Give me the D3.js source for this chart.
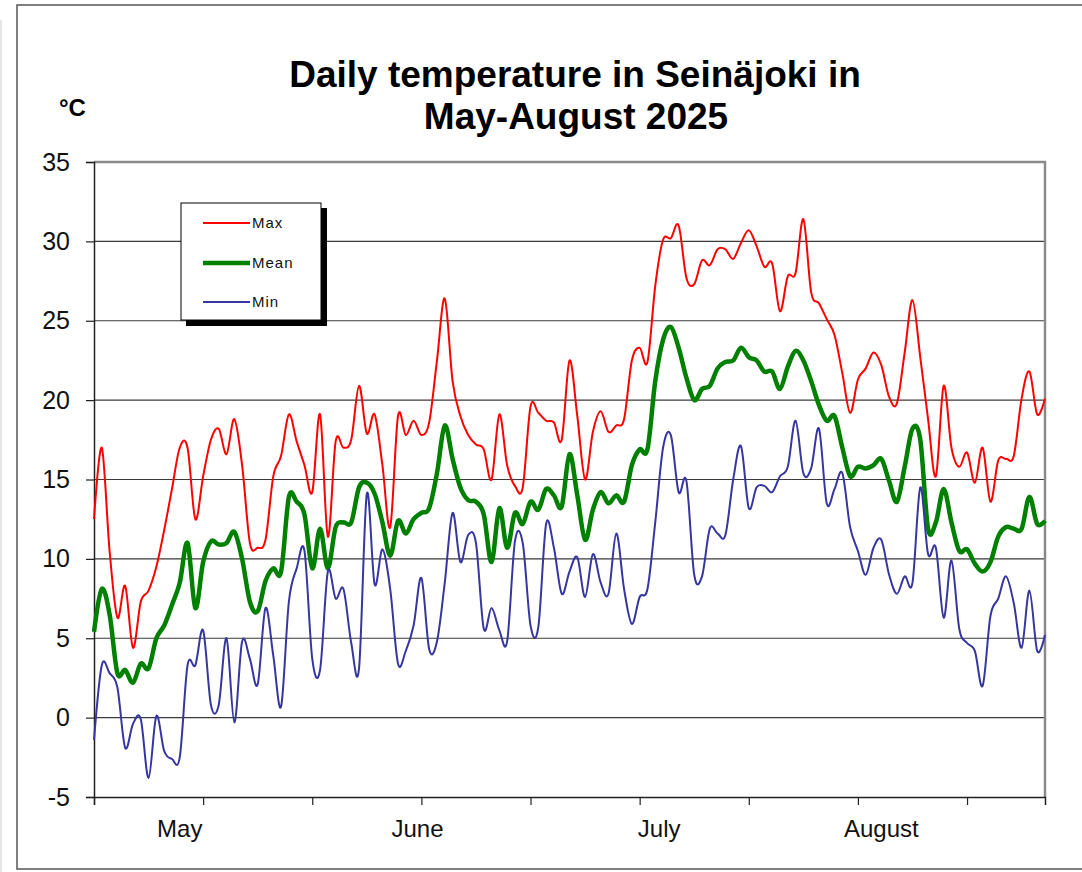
<!DOCTYPE html>
<html lang="en">

<head>
    <meta charset="UTF-8">
    <title>Daily temperature in Seinäjoki in May-August 2025</title>
    <script src="https://d3js.org/d3.v7.min.js"></script>
    <style>
        body { margin: 0; background: #fff; }
        svg { display: block; font-family: "Liberation Sans", Arial, sans-serif; }
    </style>
</head>

<body>
    <div id="chart"></div>

    <script type="text/javascript">

        // daily values, 1 May - 31 August 2025
        var tMax = [12.5, 17.0, 10.5, 6.3, 8.3, 4.4, 7.3, 8.0, 9.5, 11.8, 14.4, 17.0, 17.0, 12.5, 15.2, 17.5, 18.2, 16.6, 18.8, 15.9,
            11.0, 10.7, 11.2, 15.2, 16.5, 19.1, 17.4, 15.9, 14.2, 19.1, 11.4, 17.4, 17.0, 17.5, 20.9, 17.9, 19.1, 15.9, 12.0, 19.0,
            17.8, 18.7, 17.8, 18.6, 22.5, 26.4, 21.2, 19.0, 17.8, 17.2, 16.9, 15.0, 19.1, 15.9, 14.6, 14.5, 19.6, 19.2, 18.7, 18.6,
            17.5, 22.5, 19.0, 15.0, 18.0, 19.3, 18.0, 18.4, 18.8, 22.5, 23.3, 22.4, 27.2, 30.1, 30.2, 31.0, 27.7, 27.3, 28.8, 28.5,
            29.5, 29.5, 28.9, 29.9, 30.7, 29.7, 28.4, 28.6, 25.6, 27.8, 28.0, 31.4, 26.8, 26.1, 25.1, 24.1, 21.7, 19.2, 21.3, 22.0,
            23.0, 22.2, 20.2, 19.8, 23.0, 26.3, 22.7, 18.8, 15.2, 20.9, 17.0, 15.8, 16.7, 14.8, 17.0, 13.6, 16.2, 16.3, 16.5, 20.1,
            21.8, 19.1, 20.1];

        var tMean = [5.4, 8.1, 6.5, 2.8, 3.0, 2.2, 3.4, 3.1, 5.0, 5.8, 7.1, 8.5, 11.0, 6.9, 9.8, 11.1, 10.9, 11.0, 11.7, 10.0,
            7.3, 6.7, 8.6, 9.4, 9.2, 13.9, 13.6, 12.8, 9.4, 11.9, 9.4, 12.0, 12.3, 12.3, 14.5, 14.8, 14.1, 12.3, 10.2, 12.4,
            11.6, 12.5, 12.9, 13.2, 15.4, 18.4, 16.3, 14.5, 13.7, 13.6, 12.8, 9.8, 13.2, 10.7, 12.9, 12.2, 13.6, 13.1, 14.4, 14.0,
            13.3, 16.6, 14.0, 11.2, 13.1, 14.2, 13.5, 14.0, 13.6, 15.9, 16.9, 16.9, 21.2, 23.8, 24.6, 23.3, 21.4, 20.0, 20.7, 20.9,
            22.0, 22.4, 22.5, 23.3, 22.7, 22.5, 21.8, 21.8, 20.7, 22.1, 23.1, 22.5, 21.2, 19.7, 18.7, 19.0, 17.0, 15.2, 15.8, 15.7,
            15.9, 16.3, 14.9, 13.6, 15.8, 18.2, 17.5, 11.9, 12.3, 14.4, 12.3, 10.5, 10.6, 9.7, 9.2, 9.8, 11.4, 12.0, 11.9, 11.9,
            13.9, 12.2, 12.4];

        var tMin = [-1.4, 3.3, 2.8, 1.9, -1.9, -0.4, -0.1, -3.8, 0.1, -2.1, -2.6, -2.5, 3.3, 3.3, 5.5, 0.8, 0.8, 5.0, -0.3, 4.8,
            3.7, 2.1, 6.9, 3.9, 0.7, 7.3, 9.4, 10.5, 3.7, 3.0, 9.2, 7.5, 8.1, 4.7, 3.1, 14.1, 8.4, 10.6, 8.1, 3.4,
            4.2, 5.8, 8.8, 4.3, 4.8, 8.5, 12.9, 9.8, 11.5, 11.0, 5.6, 6.9, 5.5, 4.8, 11.1, 11.0, 5.8, 5.7, 12.2, 10.7,
            7.8, 9.2, 10.1, 7.6, 10.3, 8.5, 7.8, 11.6, 8.1, 5.9, 7.6, 8.1, 12.3, 17.0, 17.8, 14.2, 14.9, 9.0, 8.9, 11.9,
            11.6, 11.5, 15.0, 17.1, 13.2, 14.5, 14.6, 14.2, 15.2, 15.8, 18.7, 15.4, 15.7, 18.2, 13.5, 14.4, 15.4, 12.0, 10.5, 9.0,
            10.7, 11.2, 9.0, 7.8, 8.9, 8.5, 14.5, 10.3, 10.7, 6.3, 9.9, 5.6, 4.7, 4.2, 2.0, 6.4, 7.5, 8.9, 7.2, 4.4,
            8.0, 4.2, 5.2];

        var yTicks = [-5, 0, 5, 10, 15, 20, 25, 30, 35];
        var monthLabels = ["May", "June", "July", "August"];
        var monthLabelDay = [11, 41.5, 72.5, 101];   // where the month text sits (day index)

        var series = [
            { name: "Max", values: tMax, color: "#ff0000", width: 2 },
            { name: "Mean", values: tMean, color: "#008000", width: 4.5 },
            { name: "Min", values: tMin, color: "#3636a0", width: 2 }
        ];

        var W = 1082, H = 872;
        var plotLeft = 94, plotRight = 1045, plotTop = 162, plotBottom = 797;

        var svg = d3.select("#chart").append("svg")
            .attr("width", W)
            .attr("height", H);

        // outer frame
        svg.append("rect")
            .attr("x", 17).attr("y", 5)
            .attr("width", 1100).attr("height", 864)
            .attr("fill", "none")
            .attr("stroke", "#555")
            .attr("stroke-width", 1.5);
        svg.append("line")
            .attr("x1", 1).attr("x2", 1).attr("y1", 20).attr("y2", H)
            .attr("stroke", "#ccc");

        var x = d3.scaleLinear().domain([0, tMax.length - 1]).range([plotLeft, plotRight]);
        var y = d3.scaleLinear().domain([-5, 35]).range([plotBottom, plotTop]);

        // gridlines
        svg.append("g")
            .selectAll("line")
            .data(yTicks.filter(function (d) { return d > -5 && d < 35; }))
            .enter()
            .append("line")
            .attr("x1", plotLeft).attr("x2", plotRight)
            .attr("y1", function (d) { return y(d); })
            .attr("y2", function (d) { return y(d); })
            .attr("stroke", "#3a3a3a")
            .attr("stroke-width", 1.2);

        // top and right border of plot area
        svg.append("path")
            .attr("d", "M" + plotLeft + "," + y(35) + "H" + plotRight + "V" + y(-5))
            .attr("fill", "none")
            .attr("stroke", "#8a8a8a")
            .attr("stroke-width", 2.5);

        // y axis (plain hyphen for the minus sign, like the original)
        var yAxis = svg.append("g")
            .attr("transform", "translate(" + plotLeft + ",0)")
            .call(d3.axisLeft(y).tickValues(yTicks).tickSize(8).tickPadding(16)
                .tickFormat(function (d) { return String(d); }));
        yAxis.select(".domain").attr("stroke", "#222").attr("stroke-width", 1.5);
        yAxis.selectAll(".tick line").attr("stroke", "#222").attr("stroke-width", 1.2);
        yAxis.selectAll("text")
            .attr("font-size", 25)
            .attr("font-family", "Liberation Sans, Arial, sans-serif")
            .attr("fill", "#111");

        // x axis, a tick every 14 days
        var xAxis = svg.append("g")
            .attr("transform", "translate(0," + plotBottom + ")")
            .call(d3.axisBottom(x).tickValues(d3.range(0, tMax.length, 14)).tickSize(8).tickFormat(""));
        xAxis.select(".domain").attr("stroke", "#222").attr("stroke-width", 1.5);
        xAxis.selectAll(".tick line").attr("stroke", "#222").attr("stroke-width", 1.2);

        svg.append("g")
            .selectAll("text")
            .data(monthLabels)
            .enter()
            .append("text")
            .attr("x", function (d, i) { return x(monthLabelDay[i]); })
            .attr("y", 837)
            .attr("text-anchor", "middle")
            .attr("font-size", 24)
            .attr("fill", "#111")
            .text(function (d) { return d; });

        // lines (smoothed like the spreadsheet chart)
        var line = d3.line()
            .x(function (d, i) { return x(i); })
            .y(function (d) { return y(d); })
            .curve(d3.curveCardinal.tension(0));

        svg.append("g")
            .selectAll("path")
            .data(series)
            .enter()
            .append("path")
            .attr("d", function (s) { return line(s.values); })
            .attr("fill", "none")
            .attr("stroke", function (s) { return s.color; })
            .attr("stroke-width", function (s) { return s.width; })
            .attr("stroke-linejoin", "round");

        // titles
        svg.append("text")
            .attr("x", 575).attr("y", 87)
            .attr("text-anchor", "middle")
            .attr("font-size", 37).attr("font-weight", "bold")
            .text("Daily temperature in Seinäjoki in");
        svg.append("text")
            .attr("x", 576).attr("y", 129)
            .attr("text-anchor", "middle")
            .attr("font-size", 37).attr("font-weight", "bold")
            .text("May-August 2025");
        svg.append("text")
            .attr("x", 59).attr("y", 116)
            .attr("font-size", 24).attr("font-weight", "bold")
            .text("°C");

        // legend with drop shadow
        var lg = svg.append("g").attr("transform", "translate(181,203)");
        lg.append("rect")
            .attr("x", 5).attr("y", 5)
            .attr("width", 141).attr("height", 118)
            .attr("fill", "#000");
        lg.append("rect")
            .attr("width", 140).attr("height", 117)
            .attr("fill", "#fff")
            .attr("stroke", "#000")
            .attr("stroke-width", 1);

        var item = lg.selectAll(".item")
            .data(series)
            .enter()
            .append("g")
            .attr("transform", function (d, i) { return "translate(0," + [20, 60, 99][i] + ")"; });
        item.append("line")
            .attr("x1", 22).attr("x2", 69)
            .attr("stroke", function (d) { return d.color; })
            .attr("stroke-width", function (d) { return d.width; });
        item.append("text")
            .attr("x", 71).attr("y", 5)
            .attr("font-size", 15)
            .attr("letter-spacing", 1)
            .attr("fill", "#111")
            .text(function (d) { return d.name; });

    </script>
</body>

</html>
